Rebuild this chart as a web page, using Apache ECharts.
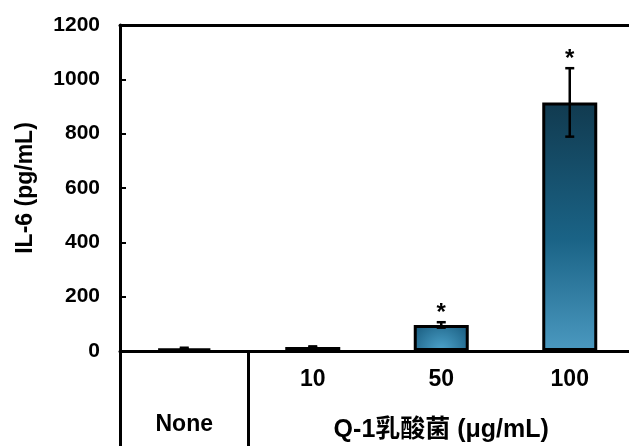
<!DOCTYPE html>
<html>
<head>
<meta charset="utf-8">
<script src="https://cdn.jsdelivr.net/npm/echarts@6/dist/echarts.min.js"></script>
<style>html,body{margin:0;padding:0;background:#fff;}#c{width:629px;height:446px;}</style>
</head>
<body>
<div id="c"></div>
<script>
var categories = ['None', '10', '50', '100'];
var values = [10, 15, 96, 915];
var errors = [2, 2, 10, 126];
var marks = ['', '', '*', '*'];
var groupLabel = 'Q-1乳酸菌 (μg/mL)';
var yTicks = {min: 0, max: 1200, interval: 200};
var yName = 'IL-6 (pg/mL)';

var FONT = 'Arial, "Liberation Sans", "Noto Sans CJK SC", sans-serif';
var chart = echarts.init(document.getElementById('c'));

var linearFill = {type: 'linear', x: 0, y: 0, x2: 0, y2: 1, colorStops: [
  {offset: 0, color: '#113a4f'}, {offset: 0.55, color: '#1a6386'}, {offset: 1, color: '#4b99c0'}]};
var radialFill = {type: 'radial', x: 0.5, y: 1, r: 1.4, colorStops: [
  {offset: 0, color: '#4ea5cd'}, {offset: 1, color: '#17597c'}]};

var barData = values.map(function (v) {
  return {value: v, itemStyle: {color: v > 300 ? linearFill : radialFill}};
});
var errData = values.map(function (v, i) { return [i, v - errors[i], v + errors[i]]; });
var markData = values.map(function (v, i) { return [i, v + errors[i], marks[i]]; });

chart.setOption({
  animation: false,
  backgroundColor: '#fff',
  grid: {left: 120, top: 25, width: 514, height: 326, containLabel: false, outerBoundsMode: 'none'},
  xAxis: [{
    type: 'category',
    data: categories,
    position: 'bottom',
    axisLine: {lineStyle: {color: '#000', width: 3}},
    axisTick: {show: true, inside: false, length: 95, lineStyle: {color: '#000', width: 3},
      interval: function (i) { return i <= 1; }},
    axisLabel: {
      interval: 0, margin: 15, color: '#000',
      formatter: function (v, i) {
        if (i === 0) return '{sp| }\n{low|' + v + '}';
        if (i === 2) return '{up|' + v + '}\n{grp|' + groupLabel + '}';
        return '{up|' + v + '}';
      },
      rich: {
        up: {fontFamily: FONT, fontWeight: 'bold', fontSize: 23, lineHeight: 28, color: '#000'},
        sp: {fontFamily: FONT, fontSize: 23, lineHeight: 28},
        low: {fontFamily: FONT, fontWeight: 'bold', fontSize: 23, lineHeight: 62, color: '#000'},
        grp: {fontFamily: FONT, fontWeight: 'bold', fontSize: 25, lineHeight: 72, color: '#000'}
      }
    },
    splitLine: {show: false}
  }, {
    type: 'category',
    data: categories,
    position: 'top',
    axisLine: {lineStyle: {color: '#000', width: 3}},
    axisTick: {show: false},
    axisLabel: {show: false}
  }],
  yAxis: {
    type: 'value',
    min: yTicks.min, max: yTicks.max, interval: yTicks.interval,
    name: yName,
    nameLocation: 'middle',
    nameGap: 83,
    nameTextStyle: {fontFamily: FONT, fontWeight: 'bold', fontSize: 23, color: '#000'},
    axisLine: {show: true, lineStyle: {color: '#000', width: 3}},
    axisTick: {show: true, inside: true, length: 6, lineStyle: {color: '#000', width: 2}},
    axisLabel: {margin: 20, fontFamily: FONT, fontWeight: 'bold', fontSize: 21, color: '#000',
      formatter: function (v) { return String(v); }},
    splitLine: {show: false}
  },
  series: [{
    type: 'bar',
    data: barData,
    barWidth: 55,
    itemStyle: {borderColor: '#000', borderWidth: 3},
    z: 2
  }, {
    type: 'custom',
    data: errData,
    z: 3,
    renderItem: function (params, api) {
      var x = api.coord([api.value(0), 0])[0];
      var lo = api.coord([api.value(0), api.value(1)])[1];
      var hi = api.coord([api.value(0), api.value(2)])[1];
      var h = 4.5;
      var st = {stroke: '#000', lineWidth: 2.5};
      return {type: 'group', children: [
        {type: 'line', shape: {x1: x, y1: lo, x2: x, y2: hi}, style: st},
        {type: 'line', shape: {x1: x - h, y1: lo, x2: x + h, y2: lo}, style: st},
        {type: 'line', shape: {x1: x - h, y1: hi, x2: x + h, y2: hi}, style: st}
      ]};
    }
  }, {
    type: 'custom',
    data: markData,
    z: 4,
    renderItem: function (params, api) {
      var i = params.dataIndex;
      if (!marks[i]) return null;
      var p = api.coord([api.value(0), api.value(1)]);
      return {type: 'text', style: {
        text: marks[i], x: p[0], y: p[1] - 9,
        fill: '#000', font: 'bold 24px ' + FONT,
        align: 'center', verticalAlign: 'middle'
      }};
    }
  }]
});
</script>
</body>
</html>
